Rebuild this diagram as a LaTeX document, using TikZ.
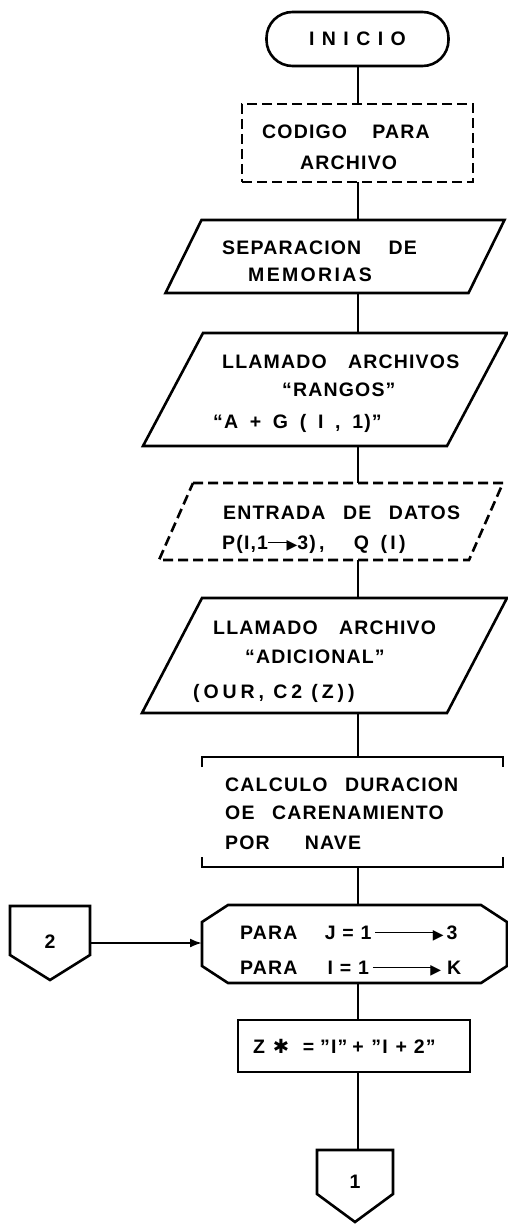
\documentclass[tikz,border=0pt]{standalone}
\usepackage{fontspec}
\setmainfont{Liberation Sans}[LetterSpace=6]
\newfontfamily\symfont{DejaVu Sans}
\usetikzlibrary{arrows.meta}

\newcommand{\wsp}{\hspace{0.9em}}
\newcommand{\tsp}{\hspace{0.6em}}
\newcommand{\arr}[1]{\rule[0.31em]{#1}{1.8pt}\kern-0.15em{\symfont\fontsize{14}{14}\selectfont\raisebox{0.02em}{▶}}}
% parallelogram drawn on a frame node: [options]{node}{slant}
\newcommand{\ioshape}[3][]{%
	\draw[edge,#1] ([xshift=#3pt]#2.north west) -- ([xshift=#3pt]#2.north east)
	-- ([xshift=-#3pt]#2.south east) -- ([xshift=-#3pt]#2.south west) -- cycle;}

\begin{document}
\begin{tikzpicture}[x=1pt,y=-1pt,font=\fontsize{19.5}{23}\selectfont\bfseries,
		frame/.style 2 args={inner sep=0pt,outer sep=0pt,minimum width=#1,minimum height=#2},
		edge/.style={line width=2.6pt,line join=miter},
		dashedge/.style={edge,dash pattern=on 10pt off 5pt},
		line/.style={line width=2pt},
		txt/.style={anchor=base west,inner sep=0pt}]
	\useasboundingbox (0,0) rectangle (508,1225);

	% boxes
	\node[draw,edge,rounded corners=26pt,frame={182pt}{54pt}] (ini) at (357.5,39)
	{\addfontfeatures{LetterSpace=38}INICIO};
	\node[draw,dashedge,frame={231pt}{78pt}] (cod) at (357.5,143) {};
	\node[frame={303pt}{73pt}] (sep) at (335,256.5) {};
	\node[frame={304pt}{113pt}] (lla1) at (325,389.5) {};
	\node[frame={310pt}{77pt}] (ent) at (331,521.5) {};
	\node[frame={305pt}{115pt}] (lla2) at (324.5,655.5) {};
	\node[frame={301pt}{110pt}] (cal) at (352.5,812) {};
	\node[frame={305pt}{78pt}] (par) at (354.5,944) {};
	\node[draw,edge,frame={232pt}{52pt}] (zbx) at (354,1046) {};
	\node[frame={80pt}{74pt}] (con2) at (50,943) {};
	\node[frame={76pt}{72pt}] (con1) at (355,1186) {};

	\ioshape{sep}{18}
	\ioshape{lla1}{30}
	\ioshape[dashedge]{ent}{17}
	\ioshape{lla2}{30}
	\draw[edge] ([yshift=-10pt]cal.north west) -- (cal.north west) -- (cal.north east) -- ([yshift=-10pt]cal.north east);
	\draw[edge] ([yshift=10pt]cal.south west) -- (cal.south west) -- (cal.south east) -- ([yshift=10pt]cal.south east);
	\draw[edge] ([xshift=26pt]par.north west) -- ([xshift=-26pt]par.north east)
	-- ([yshift=-17pt]par.north east) -- ([yshift=17pt]par.south east)
	-- ([xshift=-26pt]par.south east) -- ([xshift=26pt]par.south west)
	-- ([yshift=17pt]par.south west) -- ([yshift=-17pt]par.north west) -- cycle;
	\draw[edge] (con2.north west) -- (con2.north east) -- ([yshift=25pt]con2.south east)
	-- (con2.south) -- ([yshift=25pt]con2.south west) -- cycle;
	\draw[edge] (con1.north west) -- (con1.north east) -- ([yshift=28pt]con1.south east)
	-- (con1.south) -- ([yshift=28pt]con1.south west) -- cycle;

	% texts
	\node[txt] (cod-1) at (262,138.5) {CODIGO\hspace{1.3em}PARA};
	\node[txt] (cod-2) at (300,169.5) {ARCHIVO};
	\node[txt] (sep-1) at (222,254.5) {SEPARACION\hspace{1.4em}DE};
	\node[txt] (sep-2) at (248,281.5) {\addfontfeatures{LetterSpace=12}MEMORIAS};
	\node[txt] (lla1-1) at (222,368.5) {LLAMADO\hspace{1.1em}ARCHIVOS};
	\node[txt] (lla1-2) at (282,396.5) {``RANGOS''};
	\node[txt] (lla1-3) at (213,428.5) {``A\tsp+\tsp G\tsp(\tsp I\tsp,\tsp 1)''};
	\node[txt] (ent-1) at (223,519.5) {ENTRADA\wsp DE\wsp DATOS};
	\node[txt] (ent-2) at (222,549.5) {P(I,1\arr{1.1em}3)\,,\hspace{1.5em}Q\tsp(\,I\,)};
	\node[txt] (lla2-1) at (213,634.5) {LLAMADO\hspace{1.1em}ARCHIVO};
	\node[txt] (lla2-2) at (245,663.5) {``ADICIONAL''};
	\node[txt] (lla2-3) at (193,698.5) {\addfontfeatures{LetterSpace=20}(OUR, C2 (Z))};
	\node[txt] (cal-1) at (225,791.5) {CALCULO\wsp DURACION};
	\node[txt] (cal-2) at (225,819.5) {OE\wsp CARENAMIENTO};
	\node[txt] (cal-3) at (225,849.5) {POR\hspace{1.8em}NAVE};
	\node[txt] (par-1) at (240,939.5) {PARA\hspace{1.4em}J\hspace{0.35em}=\hspace{0.35em}1\hspace{0.2em}\arr{3.1em}\hspace{0.15em}3};
	\node[txt] (par-2) at (240,974.5) {PARA\hspace{1.55em}I\hspace{0.35em}=\hspace{0.35em}1\hspace{0.2em}\arr{3.1em}\hspace{0.3em}K};
	\node[txt] (zbx-t) at (253,1053.5) {Z\hspace{0.4em}{\symfont ✱}\hspace{0.7em}=\hspace{0.3em}"I"\hspace{0.25em}+\hspace{0.4em}"I\hspace{0.4em}+\hspace{0.35em}2"};
	\node (con2-t) at (50,942) {2};
	\node (con1-t) at (355,1182) {1};

	% connectors
	\draw[line] (ini) -- (cod);
	\draw[line] (cod.south) -- (cod.south |- sep.north);
	\draw[line] (cod.south |- sep.south) -- (cod.south |- lla1.north);
	\draw[line] (cod.south |- lla1.south) -- (cod.south |- ent.north);
	\draw[line] (cod.south |- ent.south) -- (cod.south |- lla2.north);
	\draw[line] (cod.south |- lla2.south) -- (cod.south |- cal.north);
	\draw[line] (cod.south |- cal.south) -- (cod.south |- par.north);
	\draw[line] (cod.south |- par.south) -- (cod.south |- zbx.north);
	\draw[line] (cod.south |- zbx.south) -- (cod.south |- con1.north);
	\draw[line,-{Latex[length=12pt,width=9pt]}] (con2.east) -- (con2.east -| par.west);
\end{tikzpicture}
\end{document}
